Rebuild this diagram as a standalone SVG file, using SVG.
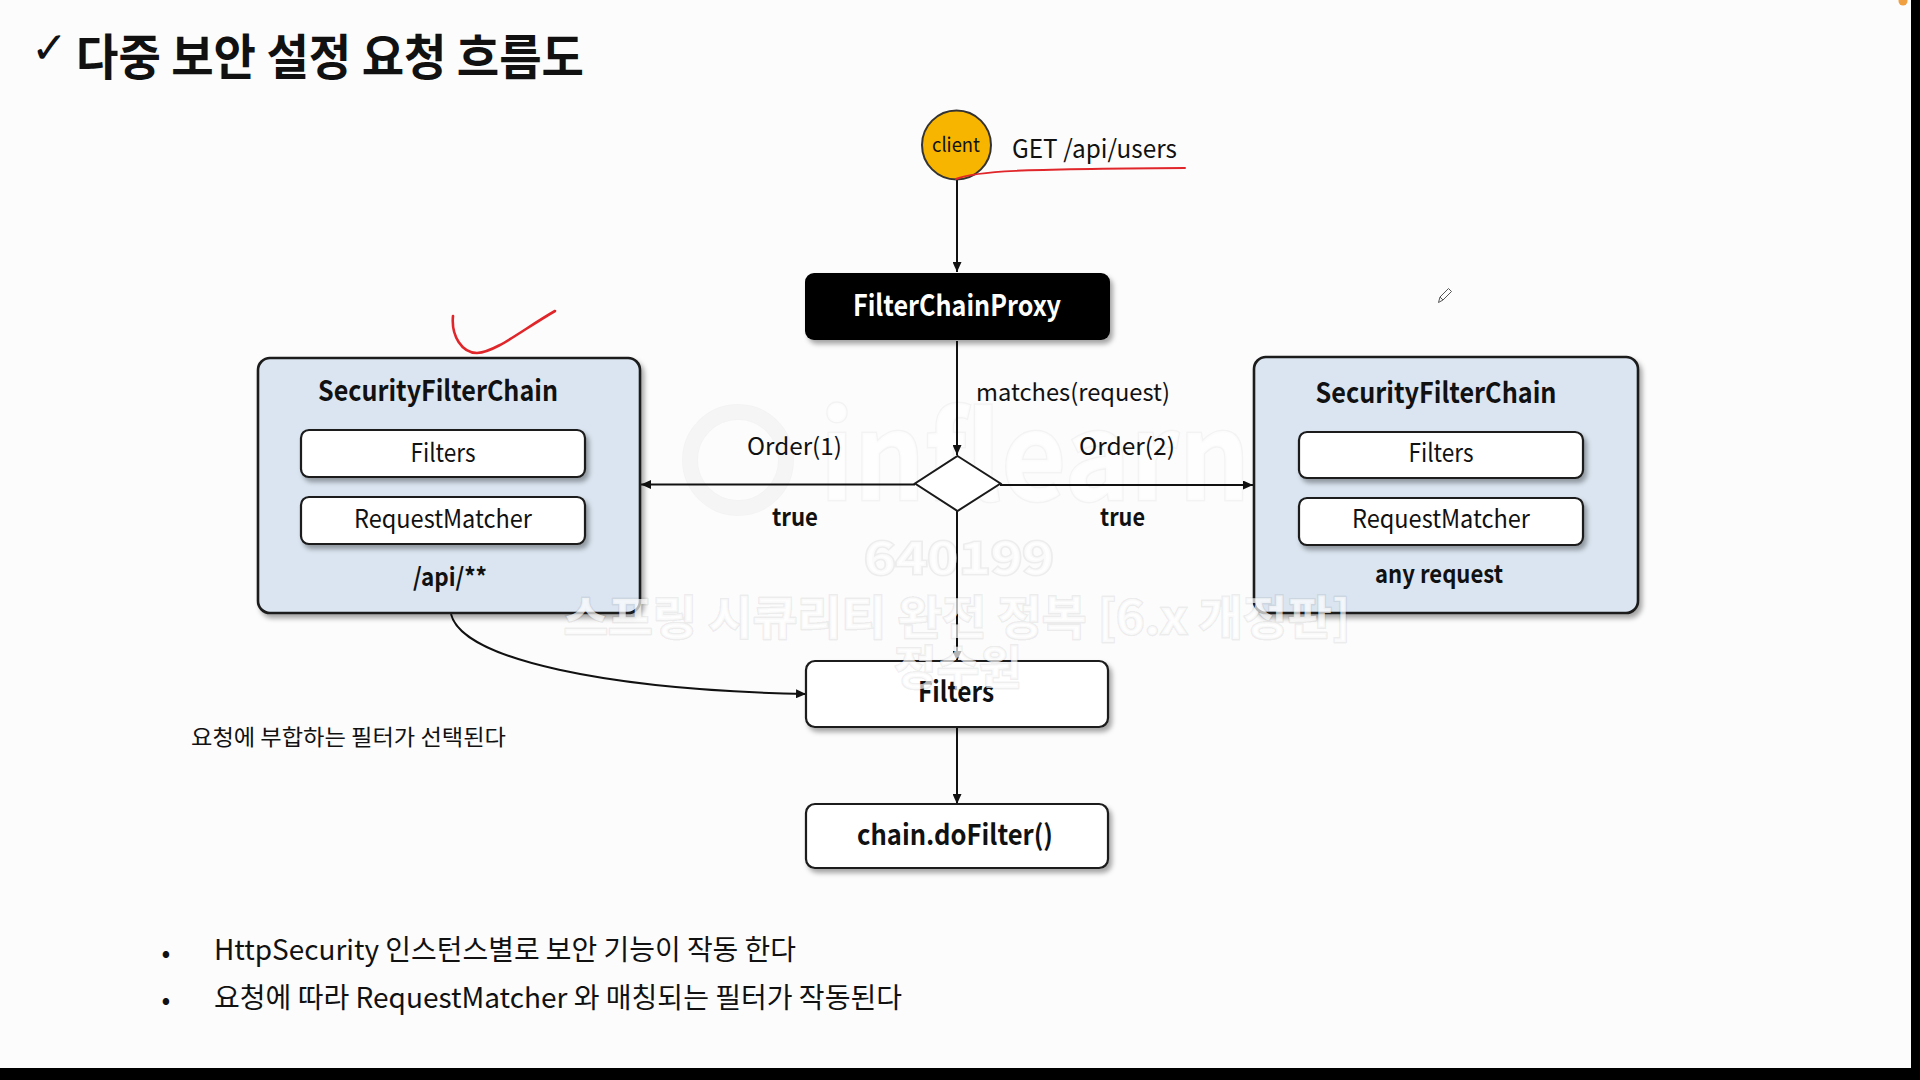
<svg xmlns="http://www.w3.org/2000/svg" width="1920" height="1080" viewBox="0 0 1920 1080">
<defs>
<style>
text{font-family:"Noto Sans CJK KR","Noto Sans",sans-serif;fill:#111;}
.b{font-weight:700;}
.c{text-anchor:middle;}
.box{fill:#fff;stroke:#1a1a1a;stroke-width:2.2;}
.outer{fill:#dae5f1;stroke:#1a1a1a;stroke-width:2.6;}
.ln{fill:none;stroke:#111;stroke-width:2;}
.red{fill:none;stroke:#e0262a;stroke-width:2;stroke-linecap:round;}
.wm{font-weight:700;fill:#ffffff;fill-opacity:0.7;stroke:#000;stroke-opacity:0.06;stroke-width:3;paint-order:stroke;text-anchor:middle;}
</style>
<filter id="sh" x="-10%" y="-10%" width="125%" height="135%">
<feDropShadow dx="3" dy="4" stdDeviation="2.5" flood-color="#000" flood-opacity="0.35"/>
</filter>
<marker id="ah" markerUnits="userSpaceOnUse" markerWidth="10" markerHeight="9" refX="10" refY="4.5" orient="auto">
<path d="M0,0 L10,4.5 L0,9 z" fill="#111"/>
</marker>
</defs>
<rect x="0" y="0" width="1920" height="1080" fill="#fcfcfc"/>

<g id="watermark">
<circle cx="738" cy="460" r="48" fill="none" stroke="#fff" stroke-opacity="0.7" stroke-width="14"/>
<circle cx="738" cy="460" r="48" fill="none" stroke="#000" stroke-opacity="0.035" stroke-width="16"/>
<text x="1035" y="500" class="wm" font-size="120" textLength="430" lengthAdjust="spacingAndGlyphs" style="stroke-opacity:0.035">inflearn</text>
</g>

<g id="title">
<text x="31" y="63" style="font-family:'DejaVu Sans',sans-serif;font-size:44px;font-weight:700;">✓</text>
<text x="76" y="75" class="b" font-size="49" textLength="508" lengthAdjust="spacingAndGlyphs">다중 보안 설정 요청 흐름도</text>
</g>

<g id="connectors">
<path class="ln" d="M957,180 L957,272" marker-end="url(#ah)"/>
<path class="ln" d="M957,341 L957,455" marker-end="url(#ah)"/>
<path class="ln" d="M915,484.5 L641,484.5" marker-end="url(#ah)"/>
<path class="ln" d="M1000,485 L1253,485" marker-end="url(#ah)"/>
<path class="ln" d="M957,511 L957,661" marker-end="url(#ah)"/>
<path class="ln" d="M451,614 C462,660 610,690 806,694" marker-end="url(#ah)"/>
<path class="ln" d="M957,728 L957,804" marker-end="url(#ah)"/>
<text x="976" y="401" font-size="24" textLength="194" lengthAdjust="spacingAndGlyphs">matches(request)</text>
<text x="747" y="455" font-size="24" textLength="95" lengthAdjust="spacingAndGlyphs">Order(1)</text>
<text x="1079" y="455" font-size="24" textLength="96" lengthAdjust="spacingAndGlyphs">Order(2)</text>
<text x="772" y="526" class="b" font-size="24" textLength="46" lengthAdjust="spacingAndGlyphs">true</text>
<text x="1100" y="526" class="b" font-size="24" textLength="45" lengthAdjust="spacingAndGlyphs">true</text>
</g>

<g id="client">
<circle cx="956.5" cy="145" r="34.5" fill="#f7b500" stroke="#333" stroke-width="2"/>
<text x="956" y="152" class="c" font-size="20" textLength="48" lengthAdjust="spacingAndGlyphs">client</text>
<text x="1012" y="158" font-size="25" textLength="165" lengthAdjust="spacingAndGlyphs">GET /api/users</text>
</g>

<g id="filterChainProxy">
<rect x="805" y="273" width="305" height="67" rx="9" fill="#050505" filter="url(#sh)"/>
<text x="957" y="316" class="b c" font-size="29" textLength="208" lengthAdjust="spacingAndGlyphs" style="fill:#fff">FilterChainProxy</text>
</g>

<g id="decision">
<polygon points="957.5,456 1000.5,483.5 957.5,511 915,483.5" fill="#fff" stroke="#1a1a1a" stroke-width="2"/>
</g>

<g id="securityFilterChain1">
<rect class="outer" x="258" y="358" width="382" height="255" rx="12" filter="url(#sh)"/>
<text x="438" y="401" class="b c" font-size="28" textLength="240" lengthAdjust="spacingAndGlyphs">SecurityFilterChain</text>
<rect class="box" x="301" y="430" width="284" height="47" rx="8" filter="url(#sh)"/>
<text x="443" y="462" class="c" font-size="25" textLength="65" lengthAdjust="spacingAndGlyphs">Filters</text>
<rect class="box" x="301" y="497" width="284" height="47" rx="8" filter="url(#sh)"/>
<text x="443" y="528" class="c" font-size="25" textLength="178" lengthAdjust="spacingAndGlyphs">RequestMatcher</text>
<text x="450" y="586" class="b c" font-size="25" textLength="74" lengthAdjust="spacingAndGlyphs">/api/**</text>
</g>

<g id="securityFilterChain2">
<rect class="outer" x="1254" y="357" width="384" height="256" rx="12" filter="url(#sh)"/>
<text x="1436" y="403" class="b c" font-size="28" textLength="241" lengthAdjust="spacingAndGlyphs">SecurityFilterChain</text>
<rect class="box" x="1299" y="432" width="284" height="46" rx="8" filter="url(#sh)"/>
<text x="1441" y="462" class="c" font-size="25" textLength="65" lengthAdjust="spacingAndGlyphs">Filters</text>
<rect class="box" x="1299" y="498" width="284" height="47" rx="8" filter="url(#sh)"/>
<text x="1441" y="528" class="c" font-size="25" textLength="178" lengthAdjust="spacingAndGlyphs">RequestMatcher</text>
<text x="1439" y="583" class="b c" font-size="25" textLength="128" lengthAdjust="spacingAndGlyphs">any request</text>
</g>

<g id="filters">
<rect class="box" x="806" y="661" width="302" height="66" rx="9" filter="url(#sh)"/>
<text x="956" y="702" class="b c" font-size="28" textLength="76" lengthAdjust="spacingAndGlyphs">Filters</text>
</g>

<g id="chainDoFilter">
<rect class="box" x="806" y="804" width="302" height="64" rx="9" filter="url(#sh)"/>
<text x="955" y="845" class="b c" font-size="28" textLength="196" lengthAdjust="spacingAndGlyphs">chain.doFilter()</text>
</g>

<g id="note">
<text x="191" y="745" font-size="22" textLength="315" lengthAdjust="spacingAndGlyphs">요청에 부합하는 필터가 선택된다</text>
</g>

<g id="bullets">
<text x="166" y="962" class="c" font-size="26">•</text>
<text x="214" y="960" font-size="28" textLength="582" lengthAdjust="spacingAndGlyphs">HttpSecurity 인스턴스별로 보안 기능이 작동 한다</text>
<text x="166" y="1009" class="c" font-size="26">•</text>
<text x="214" y="1008" font-size="28" textLength="688" lengthAdjust="spacingAndGlyphs">요청에 따라 RequestMatcher 와 매칭되는 필터가 작동된다</text>
</g>

<g id="annotations">
<path class="red" d="M956,179 C975,171 1020,169 1185,168"/>
<path class="red" style="stroke-width:2.6" d="M453,316 C451,336 462,353 477,353 C496,352 522,330 555,311"/>
<path d="M1438.5,302.5 L1440,297 L1448.5,288.5 L1451.5,291.5 L1443,300 Z M1440,297 L1443,300" fill="none" stroke="#555" stroke-width="1"/>
<circle cx="1903" cy="1" r="4.5" fill="#f0a040"/>
</g>

<g id="watermarkText">
<text x="959" y="574" class="wm" font-size="44" textLength="190" lengthAdjust="spacingAndGlyphs">640199</text>
<text x="957" y="634" class="wm" font-size="46" textLength="787" lengthAdjust="spacingAndGlyphs">스프링 시큐리티 완전 정복 [6.x 개정판]</text>
<text x="958" y="684" class="wm" font-size="46" textLength="128" lengthAdjust="spacingAndGlyphs">정수원</text>
</g>

<rect x="1911" y="0" width="9" height="1080" fill="#000"/>
<rect x="0" y="1068" width="1920" height="12" fill="#000"/>
</svg>
